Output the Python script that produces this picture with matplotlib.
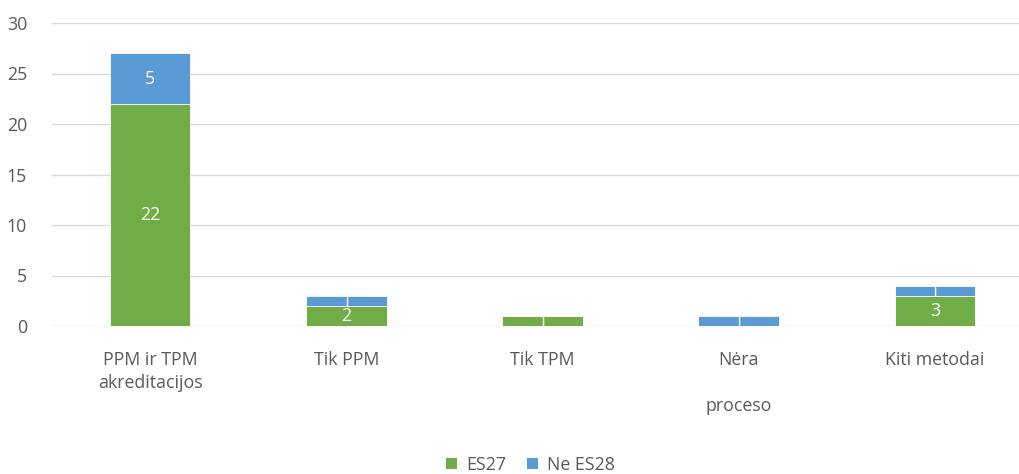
import numpy as np
import matplotlib.pyplot as plt
from matplotlib.patches import Patch

# 数据
categories = ["PPM ir TPM\nakreditacijos", "Tik PPM", "Tik TPM", "Nėra\n\nproceso", "Kiti metodai"]
es27 = [22, 2, 1, 0, 3]
ne_es28 = [5, 1, 0, 1, 1]
series_names = ["ES27", "Ne ES28"]
colors = ["#70AD47", "#5B9BD5"]
y_ticks = [0, 5, 10, 15, 20, 25, 30]

plt.rcParams["font.family"] = ["Open Sans", "DejaVu Sans"]
text_color = "#595959"
fs = 12.8

fig = plt.figure(figsize=(10.2, 4.74), dpi=100)
# 坐标区：右侧超出画布，与原图一致被裁切
ax = fig.add_axes([52 / 1020, 1 - 326 / 474, 981 / 1020, 303 / 474])

x = np.arange(len(categories))
width = 0.41
b1 = ax.bar(x, es27, width, color=colors[0], edgecolor="white", linewidth=0.6, zorder=3)
b2 = ax.bar(x, ne_es28, width, bottom=es27, color=colors[1], edgecolor="white", linewidth=0.6, zorder=3)

# 数据标签（值为 0 的不显示）
for bars, vals, bottoms in [(b1, es27, [0] * len(es27)), (b2, ne_es28, es27)]:
    for rect, v, b in zip(bars, vals, bottoms):
        if v == 0:
            continue
        ax.text(rect.get_x() + rect.get_width() / 2, b + v / 2, str(v),
                ha="center", va="center", color="white", fontsize=fs, zorder=4)

ax.set_xlim(-0.5, len(categories) - 0.5)
ax.set_ylim(0, 30)
ax.set_yticks(y_ticks)
ax.set_xticks(x)
ax.set_xticklabels(categories, linespacing=1.35)
ax.tick_params(axis="both", length=0, colors=text_color, labelsize=fs)
ax.tick_params(axis="x", pad=18)
ax.tick_params(axis="y", pad=18)

ax.grid(axis="y", color="#D9D9D9", linewidth=1, zorder=0)
for s in ax.spines.values():
    s.set_visible(False)

handles = [Patch(facecolor=c, label=n) for c, n in zip(colors, series_names)]
fig.legend(handles=handles, loc="center", bbox_to_anchor=(0.52, 1 - 465 / 474), ncol=2,
           frameon=False, fontsize=fs, labelcolor=text_color,
           handlelength=0.6, handleheight=0.6, handletextpad=0.5, columnspacing=1.2)

fig.savefig("out.png", dpi=100)
